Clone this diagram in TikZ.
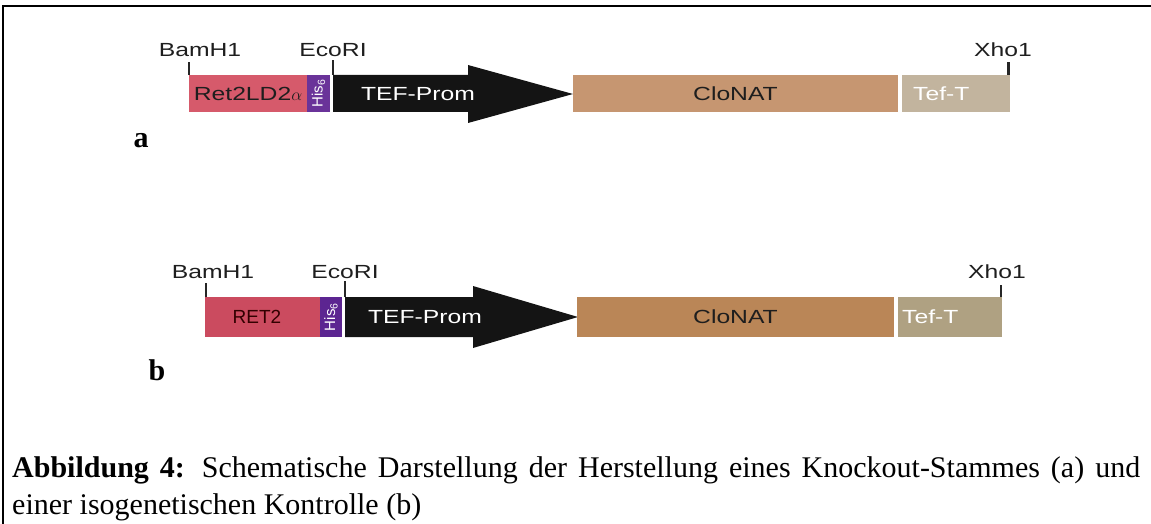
\documentclass[tikz,border=0pt]{standalone}
\usepackage{fontspec}
\setmainfont{Liberation Serif}
\newfontfamily\labfont[FakeStretch=1.3]{Liberation Sans}
\newfontfamily\plainsans{Liberation Sans}
\definecolor{retA}{HTML}{D65A6B}
\definecolor{hisA}{HTML}{6A3399}
\definecolor{cloA}{HTML}{C69671}
\definecolor{tefA}{HTML}{C2B49E}
\definecolor{retB}{HTML}{CB4B5F}
\definecolor{hisB}{HTML}{5C2591}
\definecolor{cloB}{HTML}{BA8657}
\definecolor{tefB}{HTML}{AFA182}
\definecolor{darktxt}{HTML}{1E1E1E}
\tikzset{
  seg/.style={draw=none, inner sep=0pt, outer sep=0pt, anchor=north west},
  sitelab/.style={anchor=base, inner sep=0pt, font=\labfont\fontsize{19}{19}\selectfont, text=darktxt},
  boxlab/.style={inner sep=0pt, font=\labfont\fontsize{19}{19}\selectfont},
  hislab/.style={inner sep=0pt, rotate=90, text=white, font=\plainsans\fontsize{15}{15}\selectfont},
  tick/.style={line width=2.4pt, draw=black!85},
  arrowbody/.style={fill=black!92},
  panel/.style={anchor=base, inner sep=0pt, font=\fontsize{30}{30}\selectfont\bfseries},
  frame/.style={line width=2.6pt, draw=black}
}
\begin{document}
\begin{tikzpicture}[x=1pt,y=-1pt]
\useasboundingbox (0,0) rectangle (1151,524);
% frame
\coordinate (fr1) at (1151,6);
\coordinate (fr0) at (3,6);
\coordinate (fr2) at (3,524);
\draw[frame] (fr1) -- (fr0) -- (fr2);

% ---------- construct a ----------
\node[seg, fill=retA, minimum width=118pt, minimum height=37pt] (retA) at (189,75) {};
\node[boxlab, text=darktxt] (retAt) at (248,94) {Ret2LD2\(\alpha\)};
\node[seg, fill=hisA, minimum width=23pt, minimum height=37pt] (hisA) at (307,75) {};
\node[hislab] (hisAt) at (hisA.center) {His\textsubscript{6}};
\fill[arrowbody] (333,75) -- (468,75) -- (468,65) -- (573,94) -- (468,123) -- (468,112) -- (333,112) -- cycle;
\coordinate (arrA) at (333,75);
\node[boxlab, text=white] (tefpA) at (418,94) {TEF-Prom};
\node[seg, fill=cloA, minimum width=325pt, minimum height=37pt] (cloA) at (573,75) {};
\node[boxlab, text=darktxt] (cloAt) at (cloA.center) {CloNAT};
\node[seg, fill=tefA, minimum width=108pt, minimum height=37pt] (tefA) at (902,75) {};
\node[boxlab, text=white, anchor=west] (tefAt) at (913,94) {Tef-T};
\draw[tick] (retA.north west) -- ++(0,-13);
\draw[tick] (arrA) -- ++(0,-15);
\draw[tick] ([xshift=-1.5pt]tefA.north east) -- ++(0,-13);
\node[sitelab] (bamA) at (200,57) {BamH1};
\node[sitelab] (ecoA) at (333,57) {EcoRI};
\node[sitelab] (xhoA) at (1003,57) {Xho1};
\node[panel] (pa) at (141,147) {a};

% ---------- construct b ----------
\node[seg, fill=retB, minimum width=115pt, minimum height=40pt] (retB) at (205,297) {};
\node[inner sep=0pt, text=black!80!red, font=\plainsans\fontsize{19}{19}\selectfont] (retBt) at (257,317) {RET2};
\node[seg, fill=hisB, minimum width=22pt, minimum height=40pt] (hisB) at (320,297) {};
\node[hislab] (hisBt) at (hisB.center) {His\textsubscript{6}};
\fill[arrowbody] (345,297) -- (473,297) -- (473,286) -- (578,317) -- (473,348) -- (473,337) -- (345,337) -- cycle;
\coordinate (arrB) at (345,297);
\node[boxlab, text=white] (tefpB) at (425,317) {TEF-Prom};
\node[seg, fill=cloB, minimum width=317pt, minimum height=40pt] (cloB) at (577,297) {};
\node[boxlab, text=darktxt] (cloBt) at (cloB.center) {CloNAT};
\node[seg, fill=tefB, minimum width=104pt, minimum height=40pt] (tefB) at (898,297) {};
\node[boxlab, text=white, anchor=west] (tefBt) at (902,317) {Tef-T};
\draw[tick] ([xshift=1pt]retB.north west) -- ++(0,-14);
\draw[tick] (arrB) -- ++(0,-16);
\draw[tick] ([xshift=-1pt]tefB.north east) -- ++(0,-12);
\node[sitelab] (bamB) at (213,278) {BamH1};
\node[sitelab] (ecoB) at (345,278) {EcoRI};
\node[sitelab] (xhoB) at (997,278) {Xho1};
\node[panel] (pb) at (157,380) {b};

% ---------- caption ----------
\node[anchor=base west, inner sep=0pt, font=\fontsize{30}{30}\selectfont] (cap1) at (12,477)
  {\makebox[1128pt][s]{\textbf{Abbildung 4:} Schematische Darstellung der Herstellung eines Knockout-Stammes (a) und}};
\node[anchor=base west, inner sep=0pt, font=\fontsize{30}{30}\selectfont] (cap2) at (12,514)
  {einer isogenetischen Kontrolle (b)};
\end{tikzpicture}
\end{document}
